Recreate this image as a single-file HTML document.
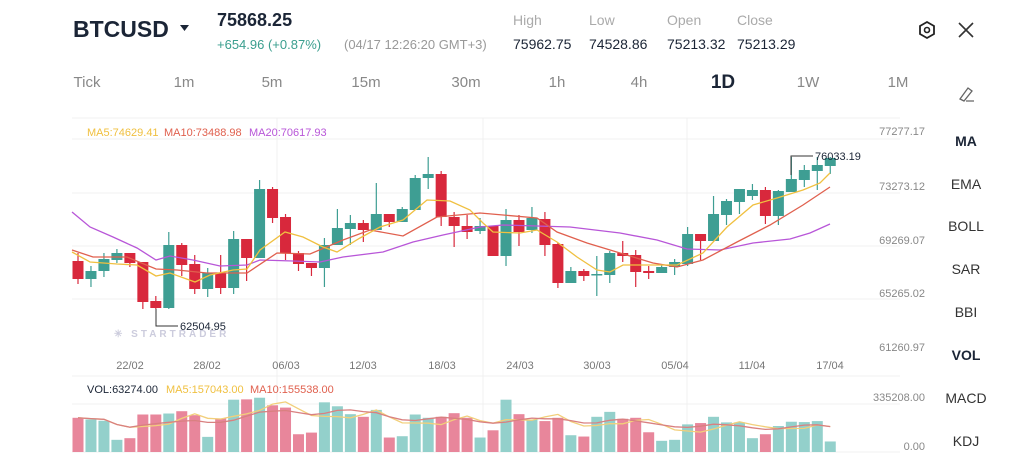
<!DOCTYPE html>
<html><head><meta charset="utf-8"><style>
html,body{margin:0;padding:0;background:#fff;width:1024px;height:471px;overflow:hidden}
svg{display:block}
text{font-family:"Liberation Sans",sans-serif}
</style></head><body>
<svg id="s" width="1024" height="471" xmlns="http://www.w3.org/2000/svg">
<text x="73" y="37" font-size="23" font-weight="bold" fill="#1b2536">BTCUSD</text>
<path d="M180 25 L189 25 L184.5 31 Z" fill="#1b2536"/>
<text x="217" y="26" font-size="18" font-weight="bold" fill="#1b2536">75868.25</text>
<text x="217" y="49" font-size="13" fill="#3a9e8e">+654.96 (+0.87%)</text>
<text x="344" y="49" font-size="13" fill="#999">(04/17 12:26:20 GMT+3)</text>
<g font-size="14" fill="#aaa"><text x="513" y="25">High</text><text x="589" y="25">Low</text><text x="667" y="25">Open</text><text x="737" y="25">Close</text></g>
<g font-size="14" fill="#1b2536"><text x="513" y="49">75962.75</text><text x="589" y="49">74528.86</text><text x="667" y="49">75213.32</text><text x="737" y="49">75213.29</text></g>
<polygon points="927,22 934,26 934,34 927,38 920,34 920,26" fill="none" stroke="#222" stroke-width="1.8"/>
<circle cx="927" cy="30" r="2.5" fill="none" stroke="#222" stroke-width="1.6"/>
<path d="M959 23 L973 37 M973 23 L959 37" stroke="#333" stroke-width="1.6"/>
<g font-size="15" fill="#888" text-anchor="middle">
<text x="87" y="87">Tick</text><text x="184" y="87">1m</text><text x="272" y="87">5m</text><text x="366" y="87">15m</text><text x="466" y="87">30m</text><text x="557" y="87">1h</text><text x="639" y="87">4h</text><text x="808" y="87">1W</text><text x="898" y="87">1M</text></g>
<text x="723" y="88" font-size="19" font-weight="bold" fill="#1b2536" text-anchor="middle">1D</text>
<path d="M960 99 L968 88 L972 91 L964 101 Z M966 101 L974 101" fill="none" stroke="#666" stroke-width="1.3"/>
<g font-size="14" fill="#333" text-anchor="middle">
<text x="966" y="146" font-weight="bold" fill="#1b2536">MA</text><text x="966" y="189">EMA</text><text x="966" y="231">BOLL</text><text x="966" y="274">SAR</text><text x="966" y="317">BBI</text><text x="966" y="360" font-weight="bold" fill="#1b2536">VOL</text><text x="966" y="403">MACD</text><text x="966" y="446">KDJ</text></g>
<g stroke="#f1f1f1" stroke-width="1">
<line x1="72" y1="118" x2="900" y2="118"/><line x1="72" y1="139" x2="900" y2="139"/><line x1="72" y1="193" x2="900" y2="193"/><line x1="72" y1="246" x2="900" y2="246"/><line x1="72" y1="299" x2="900" y2="299"/><line x1="72" y1="376" x2="900" y2="376"/><line x1="72" y1="404" x2="900" y2="404"/><line x1="72" y1="452" x2="900" y2="452"/>
<line x1="277" y1="118" x2="277" y2="452"/><line x1="483" y1="118" x2="483" y2="452"/><line x1="687" y1="118" x2="687" y2="452"/></g>
<g font-size="11" fill="#888" text-anchor="end">
<text x="925" y="135">77277.17</text><text x="925" y="190">73273.12</text><text x="925" y="244">69269.07</text><text x="925" y="297">65265.02</text><text x="925" y="351">61260.97</text><text x="925" y="401">335208.00</text><text x="925" y="450">0.00</text></g>
<g font-size="11" fill="#777" text-anchor="middle">
<text x="130" y="369">22/02</text><text x="207" y="369">28/02</text><text x="286" y="369">06/03</text><text x="363" y="369">12/03</text><text x="442" y="369">18/03</text><text x="520" y="369">24/03</text><text x="597" y="369">30/03</text><text x="675" y="369">05/04</text><text x="752" y="369">11/04</text><text x="830" y="369">17/04</text></g>
<g font-size="11"><text x="87" y="136" fill="#f0c040">MA5:74629.41</text><text x="164" y="136" fill="#e0604e">MA10:73488.98</text><text x="249" y="136" fill="#b856d8">MA20:70617.93</text></g>
<g font-size="11"><text x="87" y="393" fill="#1b2536">VOL:63274.00</text><text x="166" y="393" fill="#f0c040">MA5:157043.00</text><text x="250" y="393" fill="#e0604e">MA10:155538.00</text></g>
<text x="114" y="337" font-size="10" fill="#ccd" letter-spacing="3" font-weight="bold">✳ STARTRADER</text>
<g id="c"></g>
<path d="M156 309 L156 326 L178 326" fill="none" stroke="#333" stroke-width="1"/>
<text x="180" y="330" font-size="11" fill="#1b2536">62504.95</text>
<path d="M791 175 L791 156 L813 156" fill="none" stroke="#333" stroke-width="1"/>
<text x="815" y="160" font-size="11" fill="#1b2536">76033.19</text>
</svg>
<script>
var C=[[1,261,279,253,284],[0,271,279,266,287],[0,259,271,253,277],[0,253,260,249,263],[1,253,263,253,267],[1,262,302,262,309],[1,301,308,296,309],[0,245,308,232,309],[1,245,265,243,276],[1,264,289,255,294],[0,273,289,268,297],[1,273,288,255,294],[0,239,288,231,294],[1,239,258,239,281],[0,189,258,180,258],[1,189,218,187,223],[1,217,253,214,260],[1,253,264,251,271],[1,263,268,263,276],[0,245,268,238,287],[0,228,245,209,245],[0,223,229,215,245],[1,223,230,220,242],[0,214,230,183,230],[1,214,222,214,227],[0,209,222,207,222],[0,178,210,175,210],[0,174,178,157,189],[1,174,217,171,226],[1,217,226,212,247],[1,226,232,215,239],[0,226,231,218,234],[1,226,256,226,256],[0,220,256,209,266],[1,220,232,215,246],[0,218,230,207,233],[1,219,245,212,256],[1,244,283,243,288],[0,271,283,267,283],[1,271,276,269,281],[0,274,275,256,296],[0,253,275,251,283],[1,253,256,241,262],[1,255,272,250,287],[1,271,273,266,279],[0,267,273,264,273],[0,262,267,259,275],[0,234,264,227,266],[1,234,241,234,260],[0,214,241,196,241],[0,201,215,199,225],[0,189,202,189,214],[0,190,196,184,200],[1,190,216,187,224],[0,191,216,190,225],[0,179,192,157,192],[0,170,180,165,187],[0,165,171,157,190],[0,158,166,157,174]];
var V=[128,133,137,195,190,118,118,115,108,120,186,130,73,72,67,90,97,178,173,81,93,117,125,104,188,184,118,128,125,114,128,188,166,73,117,133,138,128,181,185,125,110,131,128,172,198,195,148,144,125,142,142,190,178,153,140,141,138,200];
var h='',vh=[],xs=[];
C.forEach(function(c,i){var x=78+i*12.97;xs.push(x);var col=c[0]?'#d8283c':'#3e9e93';
h+='<line x1="'+x+'" y1="'+c[3]+'" x2="'+x+'" y2="'+c[4]+'" stroke="'+col+'" stroke-width="1.2"/>';
h+='<rect x="'+(x-5.5)+'" y="'+c[1]+'" width="11" height="'+Math.max(1.5,c[2]-c[1])+'" fill="'+col+'"/>';
var hv=(232-V[i])/3.04;vh.push(hv);
h+='<rect x="'+(x-5.5)+'" y="'+(452-hv)+'" width="11" height="'+hv+'" fill="'+(c[0]?'#e8869b':'#93d0cb')+'"/>';});
function pl(p,col){return '<polyline points="'+p+'" fill="none" stroke="'+col+'" stroke-width="1.3"/>';}
h+=pl("72,212 90,227 113,237 137,248 156,260 170,256 193,260 220,266 247,265 260,260 293,261 320,262 343,257 383,252 413,242 443,235 480,227 503,225 570,227 620,233 657,240 687,249 720,250 753,243 790,239 810,233 830,224","#b856d8");
h+=pl("72,250 93,257 127,257 156,269 177,270 207,273 247,273 277,253 310,254 343,240 370,230 403,236 437,217 480,213 503,215 537,218 557,232 587,243 620,253 653,263 677,267 703,260 737,242 770,225 803,205 830,187","#e0604e");
h+=pl("72,252 90,262 117,264 137,265 156,276 170,273 195,282 210,275 233,270 247,269 260,250 285,232 303,237 323,247 337,252 360,238 380,227 403,220 427,200 450,201 470,210 483,223 493,232 520,233 537,230 557,242 577,257 597,270 610,272 623,265 650,265 677,265 703,253 727,227 753,205 777,198 803,190 820,183 830,173","#f0c040");
function ma(n,col){var p=[];for(var i=0;i<vh.length;i++){var s=0,k=0;for(var j=Math.max(0,i-n+1);j<=i;j++){s+=vh[j];k++;}p.push(xs[i]+','+(452-s/k).toFixed(1));}return pl(p.join(' '),col);}
h+=ma(5,'#f2cf7a')+ma(10,'#d98080');
document.getElementById('c').innerHTML=h;
</script>
</body></html>
